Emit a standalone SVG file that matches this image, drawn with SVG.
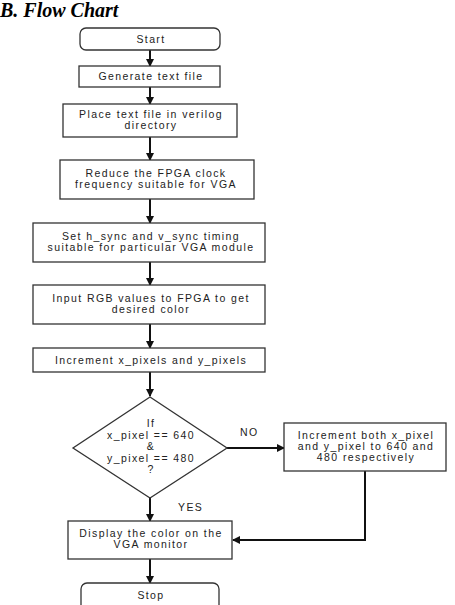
<svg xmlns="http://www.w3.org/2000/svg" width="455" height="605" viewBox="0 0 455 605">
<style>
.box{fill:#fff;stroke:#333;stroke-width:1.3}
.t{font-family:"Liberation Sans",Arial,sans-serif;font-size:10.5px;letter-spacing:1.4px;fill:#222;text-anchor:middle}
.lbl{font-family:"Liberation Sans",Arial,sans-serif;font-size:10.5px;letter-spacing:1.4px;fill:#222}
.c{fill:none;stroke:#111;stroke-width:2}
.title{font-family:"Liberation Serif","Times New Roman",serif;font-size:20px;font-weight:bold;font-style:italic;fill:#000}
</style>
<defs>
<marker id="ah" markerWidth="8" markerHeight="8" refX="7" refY="4" orient="auto" markerUnits="userSpaceOnUse">
<path d="M0,0 L8,4 L0,8 Z" fill="#111"/>
</marker>
</defs>
<rect width="455" height="605" fill="#fff"/>
<text class="title" x="0" y="17">B.  Flow Chart</text>
<g id="connectors">
<line class="c" x1="150" y1="50" x2="150" y2="66" marker-end="url(#ah)"/>
<line class="c" x1="150" y1="87" x2="150" y2="104" marker-end="url(#ah)"/>
<line class="c" x1="150" y1="137" x2="150" y2="160" marker-end="url(#ah)"/>
<line class="c" x1="150" y1="199" x2="150" y2="223" marker-end="url(#ah)"/>
<line class="c" x1="150" y1="262" x2="150" y2="285" marker-end="url(#ah)"/>
<line class="c" x1="150" y1="324" x2="150" y2="348" marker-end="url(#ah)"/>
<line class="c" x1="150" y1="372" x2="150" y2="396" marker-end="url(#ah)"/>
<line class="c" x1="227" y1="448" x2="284" y2="448" marker-end="url(#ah)"/>
<line class="c" x1="150" y1="498" x2="150" y2="521" marker-end="url(#ah)"/>
<polyline class="c" points="365,471 365,540 233,540" marker-end="url(#ah)"/>
<line class="c" x1="150" y1="559" x2="150" y2="583" marker-end="url(#ah)"/>
<text class="lbl" x="240" y="436">NO</text>
<text class="lbl" x="178" y="511">YES</text>
</g>
<g id="start">
<rect class="box" x="80" y="28" width="140" height="22" rx="6"/>
<text class="t" x="151" y="43">Start</text>
</g>
<g id="generate">
<rect class="box" x="79" y="66" width="141" height="21"/>
<text class="t" x="151" y="80">Generate text file</text>
</g>
<g id="place">
<rect class="box" x="63" y="104" width="174" height="33"/>
<text class="t" x="151" y="118">Place text file in verilog</text>
<text class="t" x="151" y="129">directory</text>
</g>
<g id="reduce">
<rect class="box" x="60" y="160" width="194" height="39"/>
<text class="t" x="156" y="177">Reduce the FPGA clock</text>
<text class="t" x="156" y="188">frequency suitable for VGA</text>
</g>
<g id="sync">
<rect class="box" x="33" y="223" width="232" height="39"/>
<text class="t" x="151" y="240">Set h_sync and v_sync timing</text>
<text class="t" x="151" y="251">suitable for particular VGA module</text>
</g>
<g id="rgb">
<rect class="box" x="33" y="285" width="232" height="39"/>
<text class="t" x="151" y="302">Input RGB values to FPGA to get</text>
<text class="t" x="151" y="313">desired color</text>
</g>
<g id="increment">
<rect class="box" x="33" y="348" width="232" height="24"/>
<text class="t" x="151" y="364">Increment x_pixels and y_pixels</text>
</g>
<g id="decision">
<polygon class="box" points="150,397 227,448 150,498 73,448"/>
<text class="t" x="151" y="427">If</text>
<text class="t" x="151" y="439">x_pixel == 640</text>
<text class="t" x="151" y="450">&amp;</text>
<text class="t" x="151" y="462">y_pixel == 480</text>
<text class="t" x="151" y="473">?</text>
</g>
<g id="incboth">
<rect class="box" x="284" y="423" width="162" height="48"/>
<text class="t" x="366" y="439">Increment both x_pixel</text>
<text class="t" x="366" y="450">and y_pixel to 640 and</text>
<text class="t" x="366" y="461">480 respectively</text>
</g>
<g id="display">
<rect class="box" x="68" y="521" width="164" height="38"/>
<text class="t" x="151" y="537">Display the color on the</text>
<text class="t" x="151" y="548">VGA monitor</text>
</g>
<g id="stop">
<rect class="box" x="81" y="583" width="138" height="30" rx="6"/>
<text class="t" x="151" y="599">Stop</text>
</g>
</svg>
